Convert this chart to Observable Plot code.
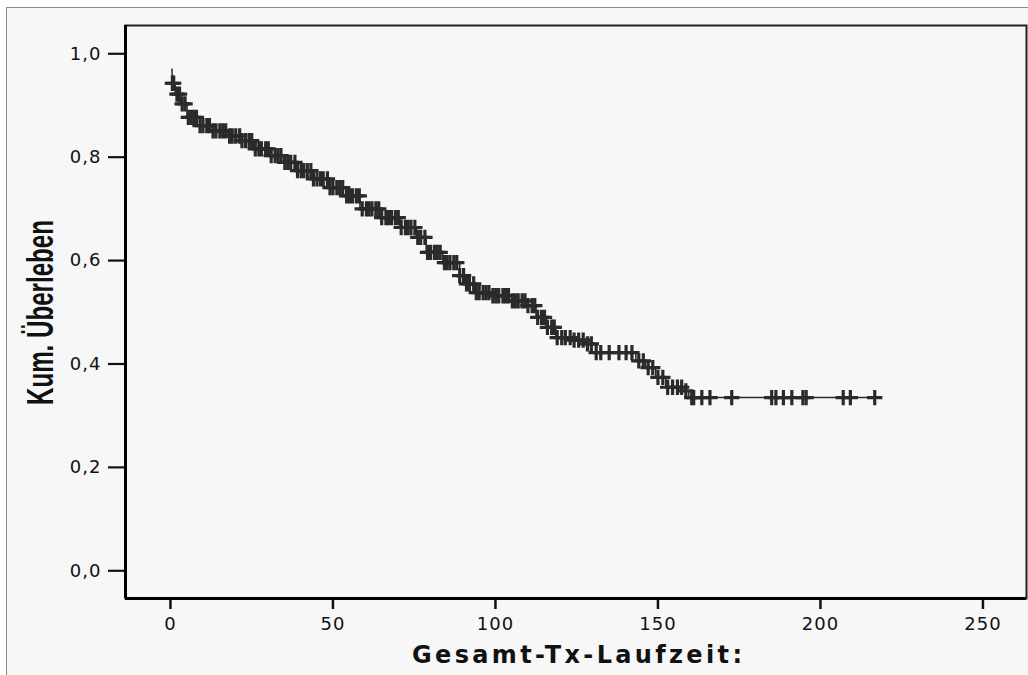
<!DOCTYPE html>
<html><head><meta charset="utf-8">
<script src="https://cdn.jsdelivr.net/npm/d3@7"></script>
<script src="https://cdn.jsdelivr.net/npm/@observablehq/plot@0.6"></script>
<style>
html,body{margin:0;padding:0;background:#fff;overflow:hidden;}
#panel{position:absolute;left:6px;top:7px;width:1022px;height:668px;background:#f7f7f7;border-top:1px solid #8a8a8a;border-left:1px solid #8a8a8a;box-sizing:border-box;}
#chart{position:absolute;left:0;top:0;}
</style></head><body>
<div id="panel"></div><div id="chart"></div>
<script>
// Kaplan-Meier steps: time at which survival drops, and the new survival value
const stepTime = [0.4, 0.5, 1.5, 3.1, 5.1, 8.2, 12.3, 17.4, 21.5, 25.6, 30.7, 34.8, 38.9, 44.0, 49.1, 54.2, 58.3, 64.4, 70.6, 75.7, 78.7, 83.8, 89.0, 91.0, 94.1, 99.2, 104.3, 109.4, 112.5, 115.6, 118.6, 123.7, 127.8, 131.0, 143.2, 146.2, 149.3, 152.4, 157.5, 159.5, 217.0];
const stepSurv = [0.970, 0.943, 0.922, 0.903, 0.877, 0.861, 0.851, 0.841, 0.832, 0.816, 0.803, 0.790, 0.774, 0.758, 0.741, 0.725, 0.700, 0.683, 0.664, 0.645, 0.616, 0.596, 0.571, 0.555, 0.538, 0.532, 0.522, 0.513, 0.490, 0.471, 0.451, 0.446, 0.439, 0.422, 0.406, 0.393, 0.374, 0.355, 0.348, 0.335, 0.335];
// censored observations (+ marks)
const censorTime = [0.6, 1.0, 2.0, 2.8, 3.6, 4.5, 5.5, 6.4, 7.2, 8.0, 9.1, 10.0, 11.2, 12.0, 13.1, 14.0, 15.2, 16.1, 17.0, 18.2, 19.0, 20.1, 21.3, 22.0, 23.1, 24.2, 25.0, 26.1, 27.2, 28.0, 29.3, 30.1, 31.0, 32.2, 33.1, 34.0, 35.2, 36.1, 37.0, 38.3, 39.1, 40.2, 41.0, 42.1, 43.2, 44.0, 45.1, 46.2, 47.0, 48.3, 49.1, 50.0, 51.2, 52.1, 53.0, 54.2, 55.1, 56.0, 57.2, 58.1, 59.0, 60.3, 61.1, 62.0, 63.2, 64.1, 65.0, 66.3, 67.1, 68.0, 69.2, 70.1, 71.0, 72.3, 73.1, 74.0, 75.2, 76.1, 77.0, 78.3, 79.1, 80.0, 81.2, 82.1, 83.0, 84.3, 85.1, 86.0, 87.2, 88.1, 89.0, 90.2, 91.1, 92.0, 93.3, 94.1, 95.0, 96.2, 97.1, 98.0, 99.2, 100.1, 101.0, 102.3, 103.1, 104.0, 105.2, 106.1, 107.0, 108.2, 109.1, 110.0, 111.3, 112.1, 113.0, 114.2, 115.1, 116.0, 117.3, 118.1, 119.0, 120.4, 121.5, 123.0, 124.2, 125.6, 127.0, 128.3, 129.5, 131.0, 132.4, 135.0, 138.0, 140.2, 142.0, 144.1, 145.5, 147.0, 148.4, 150.0, 151.5, 153.0, 154.5, 156.0, 157.3, 158.6, 160.4, 161.0, 163.5, 166.0, 172.7, 185.0, 186.3, 188.6, 191.2, 194.6, 195.6, 207.0, 209.2, 216.7];
const xTicks = [0, 50, 100, 150, 200, 250];
const yTicks = [0, 0.2, 0.4, 0.6, 0.8, 1.0];
const xTitle = "Gesamt-Tx-Laufzeit:";
const yTitle = "Kum. Überleben";

const steps = stepTime.map((t, i) => ({t, s: stepSurv[i]}));
function survAt(t) {
  let s = stepSurv[0];
  for (let i = 0; i < stepTime.length; i++) if (stepTime[i] <= t) s = stepSurv[i];
  return s;
}
const censors = censorTime.map(t => ({t, s: survAt(t)}));
const fmt = d => d.toFixed(1).replace(".", ",");
const xDom = [-13.83, 263.4], yDom = [-0.0536, 1.0547];

const chart = Plot.plot({
  width: 1028, height: 675,
  marginLeft: 125, marginRight: 2, marginTop: 25, marginBottom: 77,
  style: {background: "transparent", fontFamily: "'DejaVu Sans', sans-serif", fontSize: "18px", color: "#111", letterSpacing: "1px"},
  x: {domain: xDom},
  y: {domain: yDom},
  marks: [
    Plot.axisX({ticks: xTicks, tickSize: 11, tickPadding: 8, label: null, tickFormat: d => String(d), fontSize: 18, stroke: "#111", strokeWidth: 2.5}),
    Plot.axisY({ticks: yTicks, tickSize: 17, tickPadding: 7, label: null, tickFormat: fmt, fontSize: 18, stroke: "#111", strokeWidth: 2.2}),
    Plot.line(steps, {x: "t", y: "s", curve: "step-after", stroke: "#2a2a2a", strokeWidth: 1.5}),
    Plot.dot(censors, {x: "t", y: "s", symbol: "plus", r: 5, stroke: "#2a2a2a", strokeWidth: 3.2}),
    Plot.frame({stroke: "#222", strokeWidth: 2}),
    Plot.ruleX([xDom[0]], {stroke: "#000", strokeWidth: 3}),
    Plot.ruleY([yDom[0]], {stroke: "#000", strokeWidth: 3})
  ]
});
document.getElementById("chart").appendChild(chart);

const svg = d3.select(chart);
svg.append("text")
  .attr("x", 577).attr("y", 663)
  .attr("text-anchor", "middle")
  .attr("font-family", "'DejaVu Sans', sans-serif")
  .attr("font-weight", "bold").attr("font-size", 24)
  .attr("letter-spacing", 0)
  .attr("fill", "#111")
  .attr("textLength", 330).attr("lengthAdjust", "spacing")
  .text(xTitle);
svg.append("text")
  .attr("transform", "translate(53,312.5) rotate(-90)")
  .attr("text-anchor", "middle")
  .attr("font-family", "'Liberation Sans', Arial, sans-serif")
  .attr("font-weight", "bold").attr("font-size", 36)
  .attr("letter-spacing", 0)
  .attr("fill", "#111")
  .attr("textLength", 185).attr("lengthAdjust", "spacingAndGlyphs")
  .text(yTitle);
</script>
</body></html>
